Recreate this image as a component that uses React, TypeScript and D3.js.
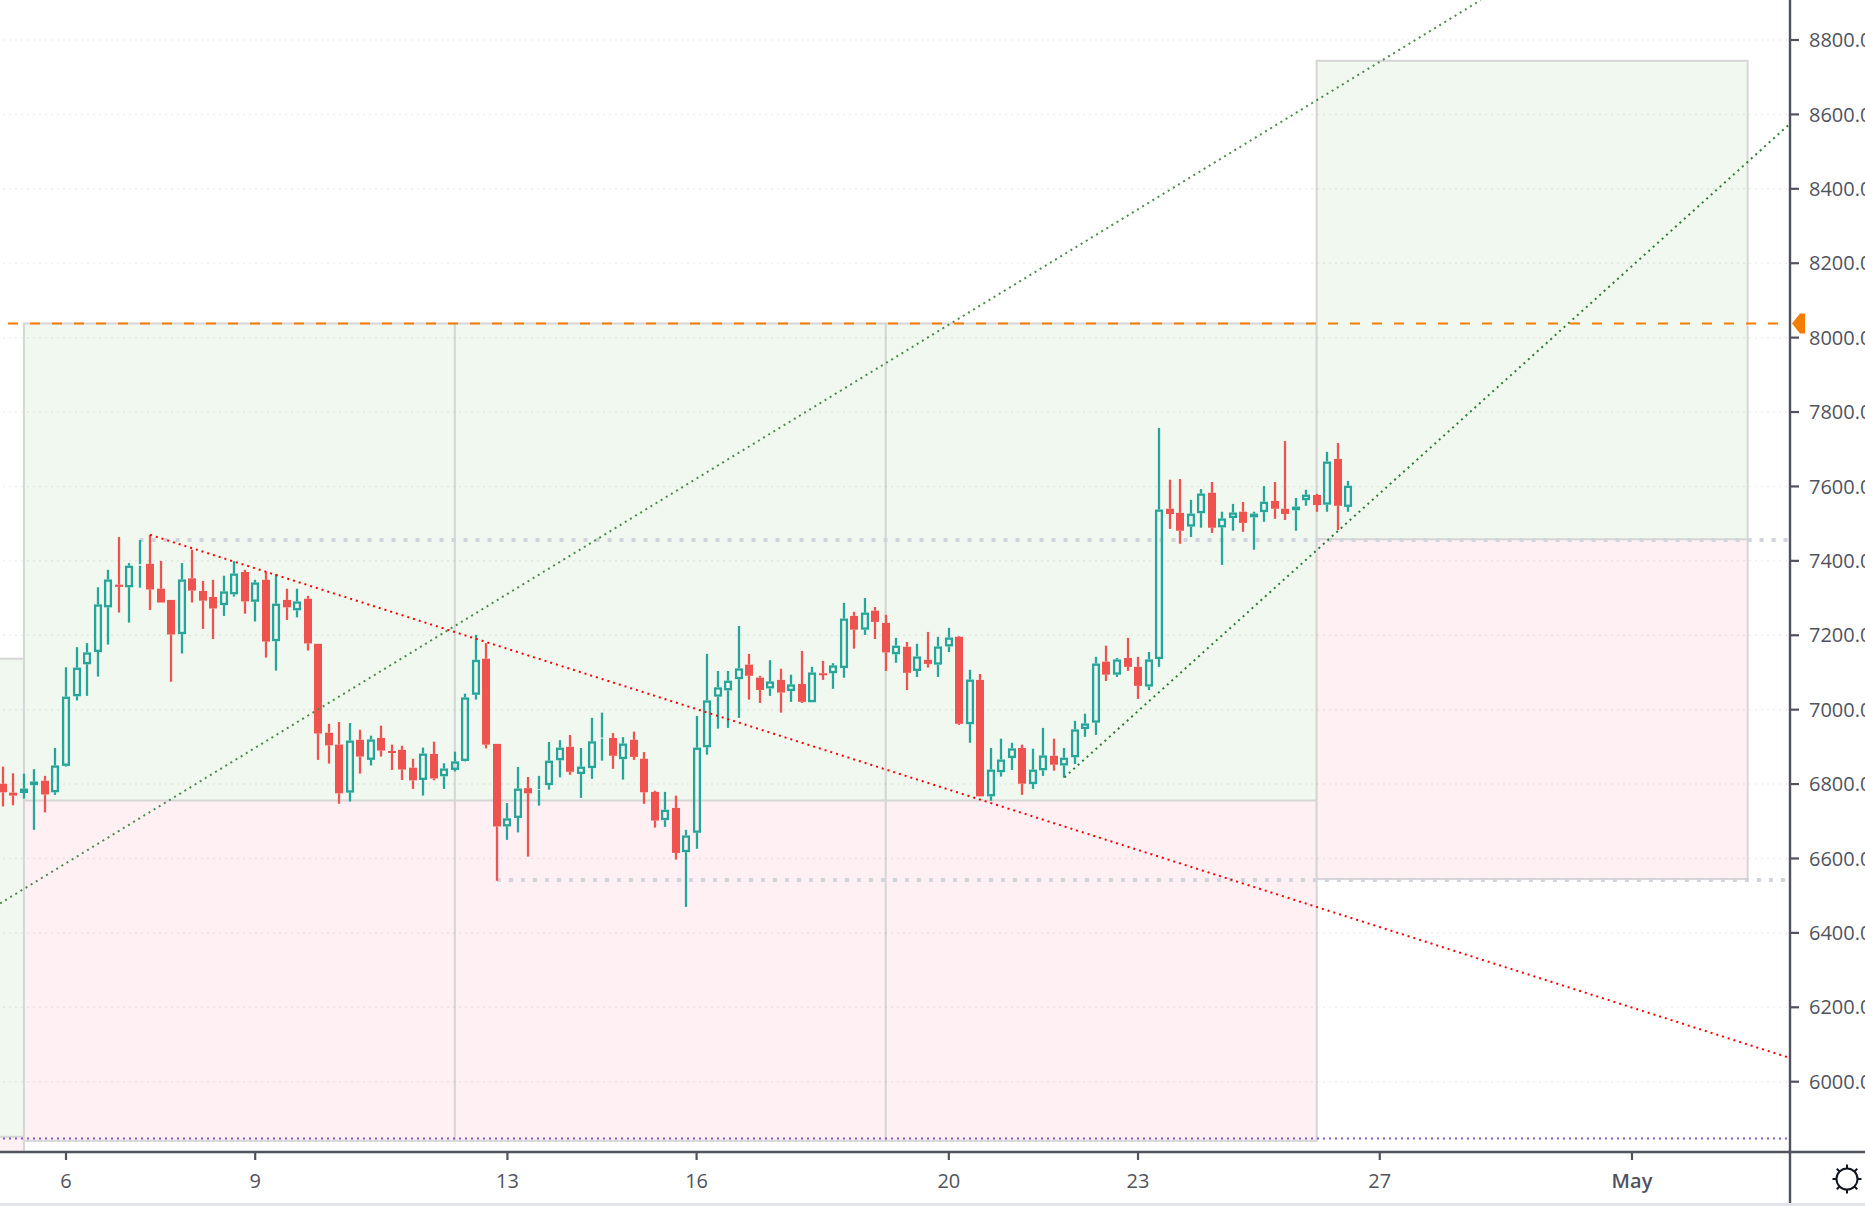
// @ts-nocheck

import React from 'react'
import * as d3 from 'd3'

const width = 1865
const height = 1206
const axisX = 1790
const axisY = 1152

// 4h candles, first one sits 6 bars before the "6" tick
const firstBar = -6
const opens = [
  6801, 6777, 6776, 6797, 6809, 6778, 6849, 7036, 7122, 7155,
  7275, 7336, 7329, 7387, 7392, 7325, 7295, 7203, 7353, 7319,
  7303, 7281, 7310, 7370, 7290, 7349, 7184, 7295, 7267, 7298,
  7177, 6938, 6906, 6777, 6919, 6865, 6924, 6889, 6892, 6844,
  6811, 6881, 6821, 6838, 6862, 7040, 7137, 6908, 6686, 6709,
  6789, 6784, 6797, 6864, 6900, 6827, 6843, 6922, 6924, 6867,
  6919, 6868, 6779, 6703, 6736, 6617, 6669, 6899, 7035, 7052,
  7082, 7121, 7086, 7057, 7080, 7050, 7069, 7020, 7098, 7098,
  7112, 7252, 7215, 7266, 7233, 7149, 7169, 7104, 7134, 7121,
  7170, 7196, 6961, 7080, 6767, 6832, 6870, 6897, 6800, 6837,
  6876, 6850, 6872, 6948, 6965, 7129, 7094, 7139, 7115, 7062,
  7136, 7540, 7529, 7492, 7528, 7583, 7490, 7515, 7532, 7517,
  7531, 7561, 7540, 7536, 7563, 7577, 7551, 7674, 7545,
]
const highs = [
  6847, 6829, 6828, 6840, 6822, 6897, 7114, 7168, 7179, 7329,
  7376, 7464, 7394, 7456, 7470, 7400, 7295, 7394, 7430, 7346,
  7349, 7360, 7399, 7376, 7349, 7371, 7365, 7325, 7325, 7306,
  7177, 6962, 6967, 6964, 6946, 6930, 6957, 6906, 6903, 6868,
  6898, 6914, 6856, 6887, 7043, 7201, 7179, 6908, 6749, 6846,
  6819, 6822, 6913, 6918, 6932, 6897, 6978, 6992, 6937, 6926,
  6941, 6886, 6782, 6779, 6769, 6677, 6983, 7150, 7104, 7104,
  7225, 7150, 7091, 7133, 7110, 7094, 7158, 7115, 7131, 7125,
  7287, 7263, 7300, 7276, 7255, 7193, 7182, 7177, 7209, 7196,
  7220, 7198, 7107, 7096, 6897, 6922, 6911, 6906, 6895, 6951,
  6922, 6897, 6970, 6989, 7142, 7172, 7139, 7193, 7142, 7155,
  7757, 7618, 7620, 7564, 7593, 7612, 7532, 7553, 7558, 7532,
  7601, 7612, 7722, 7569, 7591, 7580, 7693, 7717, 7615,
]
const lows = [
  6740, 6743, 6761, 6677, 6724, 6771, 6847, 7025, 7037, 7089,
  7175, 7261, 7234, 7328, 7268, 7288, 7075, 7151, 7288, 7217,
  7190, 7252, 7304, 7258, 7237, 7140, 7105, 7241, 7248, 7159,
  6865, 6855, 6747, 6753, 6828, 6850, 6874, 6838, 6811, 6787,
  6769, 6810, 6787, 6834, 6861, 7027, 6896, 6540, 6650, 6670,
  6605, 6742, 6785, 6818, 6825, 6763, 6814, 6863, 6841, 6812,
  6865, 6747, 6683, 6685, 6597, 6470, 6626, 6879, 6949, 6951,
  6978, 7027, 7018, 7037, 6992, 7021, 7018, 7020, 7080, 7056,
  7086, 7164, 7201, 7190, 7104, 7126, 7053, 7088, 7113, 7088,
  7155, 6959, 6911, 6767, 6755, 6820, 6838, 6771, 6787, 6822,
  6836, 6817, 6854, 6927, 6932, 7077, 7088, 7104, 7029, 7053,
  7115, 7486, 7446, 7464, 7489, 7475, 7389, 7481, 7478, 7430,
  7505, 7513, 7510, 7481, 7548, 7532, 7532, 7483, 7532,
]
const closes = [
  6778, 6769, 6788, 6807, 6772, 6850, 7035, 7113, 7154, 7283,
  7350, 7330, 7387, 7391, 7323, 7288, 7202, 7350, 7320, 7293,
  7272, 7318, 7366, 7291, 7342, 7183, 7285, 7275, 7291, 7178,
  6936, 6904, 6775, 6917, 6874, 6920, 6890, 6885, 6839, 6810,
  6882, 6815, 6842, 6861, 7033, 7134, 6906, 6686, 6708, 6788,
  6775, 6786, 6863, 6898, 6833, 6847, 6915, 6925, 6876, 6909,
  6873, 6778, 6702, 6731, 6615, 6662, 6898, 7025, 7060, 7078,
  7111, 7091, 7053, 7076, 7046, 7068, 7021, 7100, 7095, 7119,
  7245, 7215, 7261, 7236, 7154, 7172, 7099, 7143, 7123, 7170,
  7194, 6962, 7081, 6767, 6839, 6866, 6896, 6801, 6839, 6877,
  6852, 6871, 6947, 6963, 7124, 7094, 7135, 7115, 7064, 7135,
  7538, 7526, 7481, 7527, 7581, 7489, 7514, 7530, 7502, 7527,
  7559, 7540, 7526, 7546, 7578, 7550, 7667, 7548, 7602,
]

const priceTicks = [8800, 8600, 8400, 8200, 8000, 7800, 7600, 7400, 7200, 7000, 6800, 6600, 6400, 6200, 6000]
const timeTicks = [
  { bar: 0, label: '6' },
  { bar: 18, label: '9' },
  { bar: 42, label: '13' },
  { bar: 60, label: '16' },
  { bar: 84, label: '20' },
  { bar: 102, label: '23' },
  { bar: 125, label: '27' },
  { bar: 149, label: 'May', month: true },
]

// long position boxes drawn on the chart
const boxes = [
  { from: -30, to: -4, top: 7137, mid: 5852, bottom: 5780 },
  { from: -4, to: 37, top: 8038, mid: 6756, bottom: 5841 },
  { from: 37, to: 78, top: 8038, mid: 6756, bottom: 5841 },
  { from: 78, to: 119, top: 8038, mid: 6756, bottom: 5841 },
  { from: 119, to: 160, top: 8744, mid: 7458, bottom: 6545 },
]

const trendLines = [
  { from: [-6.28, 6479], to: [134.6, 8907], color: '#4c8c4a' },
  { from: [95, 6818], to: [164, 8574], color: '#2e7d32' },
  { from: [8, 7470], to: [163.9, 6065], color: '#ff0000' },
]

const levels = [
  { from: 7, price: 7456 },
  { from: 41, price: 6542 },
]
const lastLevelBar = 163.9
const orangePrice = 8038
const purplePrice = 5847

const xScale = d3.scaleLinear().domain([0, 100]).range([66, 1117])
const yScale = d3.scaleLinear().domain([8800, 6000]).range([40, 1081.7])

const GREEN = '#26a69a'
const RED = '#ef5350'
const BORDER = '#d6d6d6'
const AXIS = '#50535e'
const FONT = '"Open Sans", sans-serif'

const candles = opens.map((open, i) => ({
  bar: firstBar + i,
  open,
  high: highs[i],
  low: lows[i],
  close: closes[i],
}))

const Candle = ({ d }) => {
  const x = Math.round(xScale(d.bar))
  const up = d.close >= d.open
  const color = up ? GREEN : RED
  const top = yScale(Math.max(d.open, d.close))
  const bottom = yScale(Math.min(d.open, d.close))
  const high = yScale(d.high)
  const low = yScale(d.low)
  return (
    <g>
      <rect x={x - 1.15} y={high} width={2.3} height={Math.max(0, top - high)} fill={color} />
      <rect x={x - 1.15} y={bottom} width={2.3} height={Math.max(0, low - bottom)} fill={color} />
      {up ? (
        <rect x={x - 2.9} y={top + 1.15} width={5.8} height={Math.max(bottom - top - 2.3, 0)} fill="none" stroke={color} strokeWidth={2.3} />
      ) : (
        <rect x={x - 4} y={top} width={8} height={Math.max(bottom - top, 2)} fill={color} />
      )}
    </g>
  )
}

export default function App() {
  const sunSpokes = d3.range(8).map((k) => (k * Math.PI) / 4)
  return (
    <svg
      width={width}
      height={height}
      style={{ position: 'absolute', left: 0, top: 0, display: 'block', background: '#fff' }}
    >
      <defs>
        <clipPath id="pane">
          <rect x={0} y={0} width={axisX - 1} height={axisY - 1} />
        </clipPath>
      </defs>

      <g clipPath="url(#pane)">
        {boxes.map((b, i) => {
          const x0 = xScale(b.from)
          const x1 = xScale(b.to)
          return (
            <g key={i}>
              <rect x={x0} y={yScale(b.top)} width={x1 - x0} height={yScale(b.mid) - yScale(b.top)} fill="#f1f8f0" />
              <rect x={x0} y={yScale(b.mid)} width={x1 - x0} height={yScale(b.bottom) - yScale(b.mid)} fill="#fff0f3" />
              <rect
                x={x0}
                y={yScale(b.top)}
                width={x1 - x0}
                height={yScale(b.bottom) - yScale(b.top)}
                fill="none"
                stroke={BORDER}
                strokeWidth={2}
              />
              <line x1={x0} x2={x1} y1={yScale(b.mid)} y2={yScale(b.mid)} stroke={BORDER} strokeWidth={2} />
            </g>
          )
        })}

        {priceTicks.map((p) => (
          <line
            key={p}
            x1={3}
            x2={axisX}
            y1={yScale(p)}
            y2={yScale(p)}
            stroke="rgba(42,46,57,0.08)"
            strokeWidth={1.5}
            strokeDasharray="2 4"
          />
        ))}

        {levels.map((l) => (
          <line
            key={l.price}
            x1={xScale(l.from)}
            x2={xScale(lastLevelBar)}
            y1={yScale(l.price)}
            y2={yScale(l.price)}
            stroke="#d1d4dc"
            strokeWidth={4}
            strokeDasharray="4 8"
          />
        ))}

        <line
          x1={3}
          x2={axisX}
          y1={yScale(purplePrice)}
          y2={yScale(purplePrice)}
          stroke="#673ab7"
          strokeWidth={2}
          strokeDasharray="2 4"
          opacity={0.8}
        />

        {candles.map((d) => (
          <Candle key={d.bar} d={d} />
        ))}

        {trendLines.map((t, i) => (
          <line
            key={i}
            x1={xScale(t.from[0])}
            y1={yScale(t.from[1])}
            x2={xScale(t.to[0])}
            y2={yScale(t.to[1])}
            stroke={t.color}
            strokeWidth={2}
            strokeDasharray="2 4"
          />
        ))}

        <line
          x1={8}
          x2={axisX - 10}
          y1={yScale(orangePrice)}
          y2={yScale(orangePrice)}
          stroke="#f57c00"
          strokeWidth={2.2}
          strokeDasharray="10 12"
        />
      </g>

      {/* axes */}
      <line x1={0} x2={width} y1={axisY} y2={axisY} stroke={AXIS} strokeWidth={2.4} />
      <line x1={axisX} x2={axisX} y1={0} y2={height - 3} stroke={AXIS} strokeWidth={2.4} />
      <rect x={0} y={height - 3} width={width} height={3} fill="#e0e3eb" />

      {priceTicks.map((p) => (
        <g key={p}>
          <line x1={axisX} x2={axisX + 9} y1={yScale(p)} y2={yScale(p)} stroke={AXIS} strokeWidth={2.2} />
          <text x={1809} y={yScale(p)} dy="0.36em" fontFamily={FONT} fontSize={20} fill={AXIS}>
            {p.toFixed(1)}
          </text>
        </g>
      ))}

      {timeTicks.map((t) => (
        <g key={t.label}>
          <line x1={xScale(t.bar)} x2={xScale(t.bar)} y1={axisY} y2={axisY + 8} stroke={AXIS} strokeWidth={2.2} />
          <text
            x={xScale(t.bar)}
            y={1181}
            dy="0.36em"
            textAnchor="middle"
            fontFamily={FONT}
            fontSize={20}
            fontWeight={t.month ? 600 : 400}
            fill={AXIS}
          >
            {t.label}
          </text>
        </g>
      ))}

      {/* last price marker */}
      <path
        d={`M1792 ${yScale(orangePrice)} L1800 ${yScale(orangePrice) - 10} H1805 V${yScale(orangePrice) + 10} H1800 Z`}
        fill="#f57c00"
      />

      {/* settings icon */}
      <g transform="translate(1847,1179)" stroke="#131722" strokeWidth={2} fill="none">
        <circle r={10.5} />
        {sunSpokes.map((a, k) => (
          <line key={k} x1={10.5 * Math.cos(a)} y1={10.5 * Math.sin(a)} x2={14.5 * Math.cos(a)} y2={14.5 * Math.sin(a)} />
        ))}
      </g>
    </svg>
  )
}
